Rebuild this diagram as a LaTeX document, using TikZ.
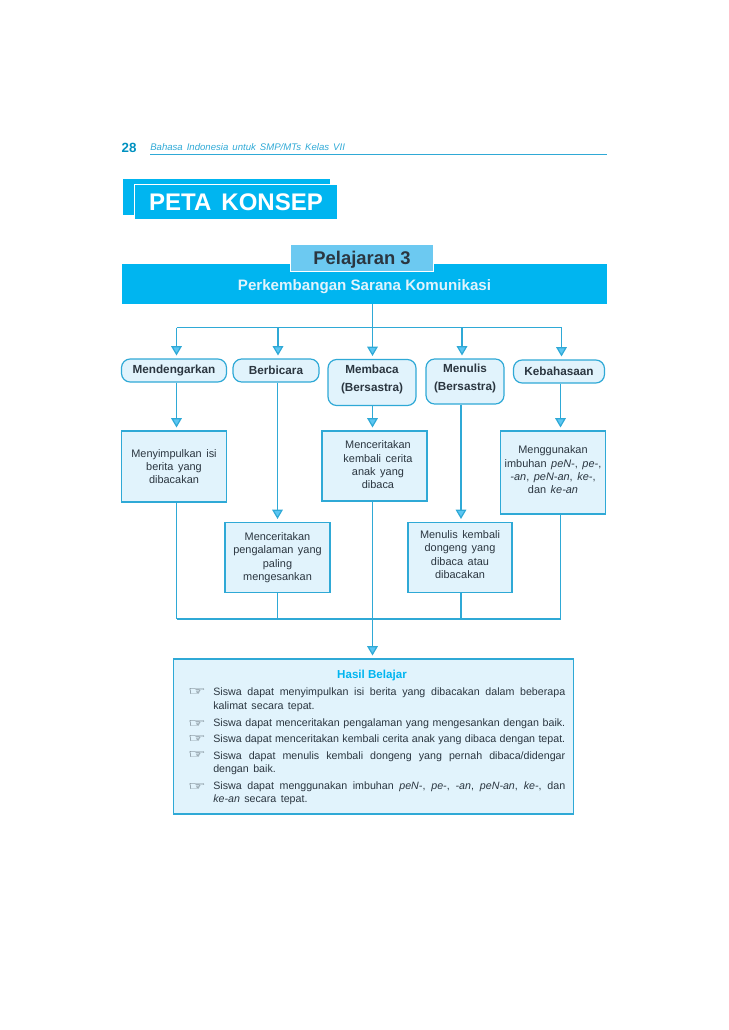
\documentclass[tikz,border=0pt]{standalone}
\usepackage{fontspec}
\setmainfont[WordSpace=1.5]{Liberation Sans}
\newfontfamily\tightfont{Liberation Sans}
\newfontfamily\handfont{DejaVu Sans}
\usetikzlibrary{arrows.meta, positioning}
\definecolor{bandblue}{HTML}{00B5F0}
\definecolor{lineblue}{HTML}{2FA9D6}
\definecolor{paleblue}{HTML}{E1F3FC}
\definecolor{tipblue}{HTML}{5CC6F2}
\definecolor{tabblue}{HTML}{6CC9F1}
\definecolor{inkdark}{HTML}{2B3640}
\tikzset{
  box size/.style 2 args={minimum width=#1*0.75pt, minimum height=#2*0.75pt},
  link/.style={draw=lineblue, line width=0.9pt},
  arrowlink/.style={link, ->, shorten >=2.2pt},
  pillbox/.style={link, fill=paleblue, rounded corners=6.5pt, inner sep=0pt,
                  align=center, text=inkdark, font=\fontsize{8.8}{13.5}\selectfont\bfseries},
  conceptbox/.style={link, fill=paleblue, inner sep=0pt, align=center, text=inkdark,
                     font=\fontsize{8.2}{10}\selectfont},
  itemtext/.style={anchor=north west, inner sep=0pt, text width=264pt, align=justify,
                   text=inkdark, font=\fontsize{8}{10}\selectfont},
  handmark/.style={inner sep=0pt, text=inkdark, font=\handfont\bfseries\fontsize{13}{13}\selectfont}
}
\begin{document}
\begin{tikzpicture}[x=0.75pt, y=-0.75pt, >={Triangle[width=8pt, length=7pt, fill=tipblue]}]
  \useasboundingbox (0,0) rectangle (728,1030);

  % Page header
  \node[text=bandblue!80!black, font=\fontsize{10}{10}\selectfont\bfseries] (pagenum) at (129,147.5) {28};
  \node[anchor=west, inner sep=0pt, text=lineblue, font=\fontsize{7.2}{8}\selectfont\itshape] (booktitle) at (150,147.5)
    {Bahasa Indonesia untuk SMP/MTs Kelas VII};
  \coordinate (ruleL) at (150,154.5);
  \coordinate (ruleR) at (607,154.5);
  \draw[link] (ruleL) -- (ruleR);

  % Title tab
  \node[fill=bandblue, inner sep=0pt, box size={207}{36}] (titleback) at (226.5,197) {};
  \node[fill=bandblue, draw=white, line width=1.2pt, inner sep=0pt, box size={203}{35}, text=white,
        font=\fontsize{18}{18}\selectfont\bfseries] (title) at (236,202) {PETA KONSEP};

  % Chapter band
  \node[fill=bandblue, inner sep=0pt, box size={485}{40}, text=paleblue, text height=10.5pt, text depth=0pt,
        font=\tightfont\fontsize{11.35}{12}\selectfont\bfseries] (band) at (364.5,284) {Perkembangan Sarana Komunikasi};
  \node[fill=tabblue, draw=white, line width=1.2pt, inner sep=0pt, box size={143}{27}, text=inkdark, text height=9.2pt, text depth=0pt,
        font=\tightfont\fontsize{13.8}{14}\selectfont\bfseries] (lesson) at (362,258) {Pelajaran 3};

  % Skills
  \node[pillbox, box size={105}{23}] (mdg) at (174,370.5) {Mendengarkan};
  \node[pillbox, box size={86}{23}] (bbc) at (276,370.5) {Berbicara};
  \node[pillbox, box size={88}{46}] (mbc) at (372,382.5) {Membaca\\(Bersastra)\\[-6.7pt]\mbox{}};
  \node[pillbox, box size={78}{45}] (mls) at (465,381.5) {Menulis\\(Bersastra)\\[-6.7pt]\mbox{}};
  \node[pillbox, box size={91}{23}] (kbh) at (559,371.5) {Kebahasaan};

  % Competencies
  \node[conceptbox, box size={105}{71}] (hmdg) at (174,466.5) {Menyimpulkan isi\\berita yang\\dibacakan};
  \node[conceptbox, box size={105}{70}] (hbbc) at (277.5,557.5) {Menceritakan\\pengalaman yang\\paling\\mengesankan\\[-8.5pt]\mbox{}};
  \node[conceptbox, box size={105}{70}] (hmbc) at (374.5,466)
    {\hspace*{5.2pt}Menceritakan\\\hspace*{5.2pt}kembali cerita\\\hspace*{5.2pt}anak yang\\\hspace*{5.2pt}dibaca\\[-8.5pt]\mbox{}};
  \node[conceptbox, box size={104}{70}] (hmls) at (460,557.5) {Menulis kembali\\dongeng yang\\dibaca atau\\dibacakan\\[-5.5pt]\mbox{}};
  \node[conceptbox, box size={105}{83}] (hkbh) at (553,472.5)
    {Menggunakan\\imbuhan \textit{peN-}, \textit{pe-},\\\textit{-an}, \textit{peN-an}, \textit{ke-},\\dan \textit{ke-an}\\[-6.2pt]\mbox{}};

  % Result box
  \node[link, fill=paleblue, box size={400}{155}] (result) at (373.2,736.5) {};
  \node[inner sep=0pt, text=bandblue, font=\tightfont\fontsize{8.7}{10}\selectfont\bfseries] (resulthead) at (372,675.5) {Hasil Belajar};
  \node[itemtext] (item1) at (213,687.8) {Siswa dapat menyimpulkan isi berita yang dibacakan dalam beberapa\linebreak kalimat secara tepat.};
  \node[itemtext] (item2) at (213,718.8) {Siswa dapat menceritakan pengalaman yang mengesankan dengan baik.};
  \node[itemtext] (item3) at (213,734.3) {Siswa dapat menceritakan kembali cerita anak yang dibaca dengan tepat.};
  \node[itemtext] (item4) at (213,751.3) {Siswa dapat menulis kembali dongeng yang pernah dibaca/didengar\linebreak dengan baik.};
  \node[itemtext] (item5) at (213,781.3) {Siswa dapat menggunakan imbuhan \textit{peN-}, \textit{pe-}, \textit{-an}, \textit{peN-an}, \textit{ke-}, dan\linebreak \textit{ke-an} secara tepat.};
  \foreach \n/\ypos in {1/692, 2/724, 3/739, 4/755, 5/787} {
    \node[handmark] (hand\n) at (197,\ypos) {\scalebox{1.15}[0.7]{☞}};
  }

  % Upper bus
  \foreach \n/\xpos in {1/176.5, 2/278, 3/372.5, 4/462, 5/561.5} {
    \coordinate (up\n) at (\xpos,327.5);
  }
  \draw[link] (up3 |- band.south) -- (up3);
  \draw[link] (up1) -- (up5);
  \foreach \n/\pill in {1/mdg, 2/bbc, 3/mbc, 4/mls, 5/kbh} {
    \draw[arrowlink] (up\n) -- (up\n |- \pill.north);
  }

  % Lower bus
  \foreach \n/\xpos in {1/176.5, 2/277.5, 3/372.5, 4/461, 5/560.5} {
    \coordinate (low\n) at (\xpos,619);
  }
  \draw[link] (low1) -- (low5);
  \foreach \n/\pill/\goal in {1/mdg/hmdg, 2/bbc/hbbc, 3/mbc/hmbc, 4/mls/hmls, 5/kbh/hkbh} {
    \draw[arrowlink] (low\n |- \pill.south) -- (low\n |- \goal.north);
  }
  \foreach \n/\goal in {1/hmdg, 2/hbbc, 4/hmls, 5/hkbh} {
    \draw[link] (low\n |- \goal.south) -- (low\n);
  }
  \draw[arrowlink] (low3 |- hmbc.south) -- (low3 |- result.north);
\end{tikzpicture}
\end{document}
